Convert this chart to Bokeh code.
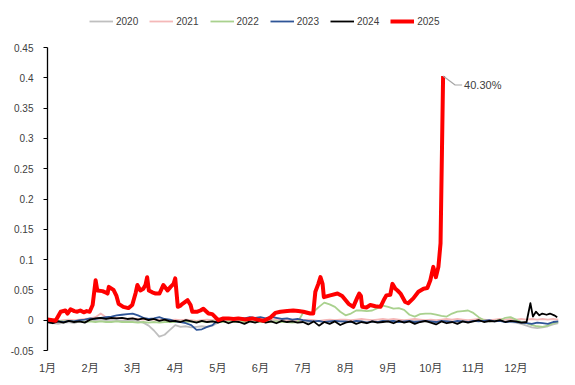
from bokeh.plotting import figure
from bokeh.models import (Range1d, FixedTicker, NumeralTickFormatter, Legend, LegendItem, Label)
from bokeh.embed import file_html
from bokeh.resources import INLINE

# ---- data (x in months since 1 Jan; 0 = 1月) ----
month_ticks = [0, 1, 2, 3, 4, 5, 6, 7, 8, 9, 10, 11]
month_labels = ["1月", "2月", "3月", "4月", "5月", "6月", "7月", "8月", "9月", "10月", "11月", "12月"]
y_ticks = [-0.05, 0, 0.05, 0.1, 0.15, 0.2, 0.25, 0.3, 0.35, 0.4, 0.45]

grid = [0, 0.125, 0.25, 0.375, 0.5, 0.625, 0.75, 0.875,
        1, 1.125, 1.25, 1.375, 1.5, 1.625, 1.75, 1.875,
        2, 2.125, 2.25, 2.375, 2.5, 2.625, 2.75, 2.875,
        3, 3.125, 3.25, 3.375, 3.5, 3.625, 3.75, 3.875,
        4, 4.125, 4.25, 4.375, 4.5, 4.625, 4.75, 4.875,
        5, 5.125, 5.25, 5.375, 5.5, 5.625, 5.75, 5.875,
        6, 6.125, 6.25, 6.375, 6.5, 6.625, 6.75, 6.875,
        7, 7.125, 7.25, 7.375, 7.5, 7.625, 7.75, 7.875,
        8, 8.125, 8.25, 8.375, 8.5, 8.625, 8.75, 8.875,
        9, 9.125, 9.25, 9.375, 9.5, 9.625, 9.75, 9.875,
        10, 10.125, 10.25, 10.375, 10.5, 10.625, 10.75, 10.875,
        11, 11.125, 11.25, 11.375, 11.5, 11.625, 11.75, 11.875,
        12]

y2020 = [-0.003, -0.005, -0.006, -0.004, -0.003, -0.005, -0.002, -0.003,
         -0.001, 0.000, 0.001, 0.000, 0.001, 0.000, -0.001, 0.000,
         0.000, -0.002, -0.004, -0.009, -0.017, -0.027, -0.024, -0.016,
         -0.008, -0.011, -0.010, -0.012, -0.011, -0.010, -0.011, -0.009,
         -0.004, -0.002, -0.003, -0.001, -0.002, 0.000, -0.001, -0.002,
         -0.001, -0.002, 0.000, -0.001, -0.002, -0.001, 0.000, -0.001,
         -0.002, -0.003, -0.001, -0.002, -0.003, -0.002, -0.001, -0.002,
         -0.003, -0.002, -0.001, -0.002, -0.003, -0.002, -0.003, -0.002,
         -0.002, -0.001, -0.002, -0.003, -0.002, -0.001, -0.002, -0.003,
         -0.002, -0.003, -0.002, -0.001, -0.002, -0.003, -0.002, -0.001,
         -0.002, -0.001, -0.002, -0.003, -0.002, -0.001, -0.002, -0.003,
         -0.004, -0.006, -0.009, -0.012, -0.013, -0.012, -0.010, -0.007,
         -0.005]

y2021 = [-0.001, 0.000, -0.001, 0.000, 0.001, 0.000, 0.001, 0.002,
         0.003, 0.005, 0.011, 0.005, 0.003, 0.004, 0.003, 0.002,
         0.003, 0.002, 0.001, 0.002, 0.001, 0.000, 0.001, 0.000,
         0.001, 0.000, 0.001, 0.000, -0.001, 0.000, 0.001, 0.000,
         0.001, 0.002, 0.001, 0.000, 0.001, 0.002, 0.001, 0.000,
         0.001, 0.000, 0.001, 0.002, 0.001, 0.000, 0.001, 0.000,
         0.000, 0.001, 0.000, -0.001, 0.000, 0.001, 0.000, 0.001,
         0.001, 0.000, 0.001, 0.002, 0.001, 0.000, 0.001, 0.002,
         0.001, 0.002, 0.001, 0.000, 0.001, 0.002, 0.001, 0.000,
         0.001, 0.000, 0.001, 0.002, 0.001, 0.002, 0.001, 0.000,
         0.001, 0.002, 0.001, 0.000, 0.001, 0.002, 0.001, 0.002,
         0.001, 0.002, 0.001, 0.002, 0.001, 0.002, 0.001, 0.002,
         0.001]

y2022 = [0.000, -0.001, -0.001, -0.002, -0.001, -0.002, -0.002, -0.003,
         -0.002, -0.003, -0.002, -0.003, -0.003, -0.002, -0.003, -0.003,
         -0.003, -0.004, -0.003, -0.004, -0.003, -0.004, -0.003, -0.003,
         -0.003, -0.002, -0.003, -0.002, -0.003, -0.002, -0.003, -0.002,
         -0.002, -0.003, -0.002, -0.003, -0.002, -0.003, -0.002, -0.003,
         -0.003, -0.002, -0.003, -0.002, -0.003, -0.003, -0.004, -0.003,
         0.012, 0.011, 0.014, 0.022, 0.029, 0.026, 0.022, 0.014,
         0.008, 0.011, 0.016, 0.016, 0.015, 0.016, 0.020, 0.024,
         0.022, 0.019, 0.020, 0.017, 0.009, 0.006, 0.010, 0.011,
         0.011, 0.009, 0.007, 0.006, 0.011, 0.014, 0.015, 0.016,
         0.012, 0.005, 0.000, -0.002, -0.001, 0.000, 0.004, 0.005,
         0.001, -0.003, -0.005, -0.008, -0.010, -0.011, -0.009, -0.005,
         -0.003]

y2023 = [-0.003, -0.004, -0.002, -0.003, -0.001, -0.002, 0.000, 0.001,
         0.003, 0.002, 0.004, 0.005, 0.006, 0.008, 0.009, 0.010,
         0.011, 0.008, 0.004, 0.002, 0.003, 0.005, 0.002, 0.001,
         -0.002, -0.003, -0.005, -0.008, -0.016, -0.015, -0.011, -0.008,
         0.000, 0.001, 0.003, 0.003, 0.004, 0.003, 0.005, 0.004,
         0.005, 0.003, 0.006, 0.004, 0.002, 0.003, 0.001, 0.002,
         0.000, -0.001, -0.002, -0.001, -0.003, -0.002, -0.001, -0.002,
         -0.002, -0.003, -0.001, -0.002, -0.004, -0.002, -0.003, -0.001,
         -0.002, -0.001, -0.003, -0.002, -0.001, -0.003, -0.002, -0.001,
         -0.002, -0.003, -0.001, -0.002, -0.003, -0.001, -0.002, -0.003,
         -0.001, -0.002, -0.001, 0.000, -0.002, -0.001, -0.003, -0.002,
         -0.003, -0.004, -0.005, -0.006, -0.004, -0.005, -0.006, -0.003,
         -0.002]

x2024 = grid[:91] + [11.34, 11.4, 11.47, 11.55, 11.62, 11.72, 11.8, 11.9, 11.97]
y2024 = [-0.003, -0.005, -0.002, -0.004, -0.001, -0.003, -0.002, -0.004,
         0.001, 0.003, 0.004, 0.002, 0.004, 0.003, 0.004, 0.002,
         0.003, 0.001, 0.003, 0.000, 0.002, -0.001, 0.001, -0.002,
         -0.001, -0.003, 0.000, -0.002, -0.004, -0.001, -0.003, -0.002,
         -0.004, -0.001, -0.005, -0.002, -0.003, -0.006, -0.002, -0.004,
         -0.001, -0.004, -0.002, -0.005, -0.001, -0.003, -0.002, -0.004,
         -0.003, -0.007, -0.002, -0.009, -0.003, -0.006, -0.002, -0.008,
         -0.004, -0.002, -0.006, -0.003, -0.005, -0.002, -0.004, -0.003,
         -0.002, -0.005, -0.001, -0.004, -0.002, -0.006, -0.003, -0.001,
         -0.004, -0.007, -0.002, -0.005, -0.003, -0.006, -0.002, -0.004,
         -0.002, 0.000, -0.003, -0.001, -0.002, 0.000, -0.003, -0.001,
         -0.002, -0.004, -0.003,
         0.028, 0.006, 0.014, 0.008, 0.011, 0.009, 0.011, 0.008, 0.005]

x2025 = [0.0, 0.12, 0.19, 0.31, 0.42, 0.47, 0.54, 0.63, 0.70, 0.77,
         0.85, 0.92, 0.99, 1.06, 1.13, 1.17, 1.29, 1.36, 1.41, 1.44,
         1.55, 1.62, 1.67, 1.78, 1.90, 1.99, 2.07, 2.11, 2.18, 2.25,
         2.30, 2.34, 2.38, 2.46, 2.54, 2.63, 2.72, 2.82, 2.89, 2.96,
         3.00, 3.06, 3.12, 3.17, 3.29, 3.36, 3.40, 3.52, 3.59, 3.66,
         3.78, 3.87, 3.97, 4.01, 4.13, 4.25, 4.37, 4.48, 4.65, 4.81,
         4.93, 5.07, 5.23, 5.35, 5.47, 5.63, 5.77, 5.89, 6.01, 6.17,
         6.24, 6.29, 6.36, 6.41, 6.46, 6.49, 6.64, 6.81, 6.92, 7.07,
         7.18, 7.28, 7.32, 7.36, 7.39, 7.49, 7.58, 7.70, 7.82, 7.91,
         7.96, 8.05, 8.10, 8.17, 8.22, 8.29, 8.40, 8.47, 8.59, 8.71,
         8.83, 8.92, 8.99, 9.06, 9.12, 9.18, 9.23, 9.29]
y2025 = [0.001, 0.0, -0.001, 0.014, 0.016, 0.011, 0.018, 0.015, 0.014, 0.016,
         0.013, 0.015, 0.014, 0.025, 0.066, 0.049, 0.048, 0.046, 0.044, 0.055,
         0.050, 0.040, 0.027, 0.022, 0.020, 0.025, 0.045, 0.058, 0.049, 0.052,
         0.058, 0.071, 0.049, 0.046, 0.044, 0.044, 0.058, 0.049, 0.055, 0.060,
         0.069, 0.022, 0.024, 0.027, 0.033, 0.025, 0.014, 0.014, 0.016, 0.019,
         0.011, 0.010, 0.003, 0.000, 0.003, 0.003, 0.002, 0.003, 0.001, 0.003,
         0.001, -0.001, 0.004, 0.012, 0.014, 0.015, 0.016, 0.015, 0.014, 0.011,
         0.011, 0.047, 0.060, 0.071, 0.060, 0.038, 0.041, 0.044, 0.040, 0.027,
         0.022, 0.038, 0.044, 0.040, 0.022, 0.021, 0.025, 0.023, 0.022, 0.035,
         0.041, 0.042, 0.060, 0.052, 0.049, 0.044, 0.030, 0.028, 0.036, 0.047,
         0.052, 0.053, 0.066, 0.088, 0.071, 0.088, 0.127, 0.403]

series = [
    ("2020", grid, y2020, "#BFBFBF", 1.8),
    ("2021", grid, y2021, "#F4B8B8", 1.8),
    ("2022", grid, y2022, "#A9D18E", 1.8),
    ("2023", grid, y2023, "#2F5597", 1.8),
    ("2024", x2024, y2024, "#000000", 1.8),
    ("2025", x2025, y2025, "#FF0000", 4),
]

# ---- layout ----
W, H = 575, 385
AXIS_TOP = 47                      # pixel row of the 0.45 tick
BL, BR, BT, BB = 47, 17, 2, 35
FW, FH = W - BL - BR, H - BT - BB
AX_H = H - BB - AXIS_TOP           # pixel height of the -0.05..0.45 axis span
y_lo, y_hi = y_ticks[0], y_ticks[-1]
y_top = y_hi + (AXIS_TOP - BT) * (y_hi - y_lo) / AX_H
FONT = "Liberation Sans, Noto Sans CJK SC"
TXT = "#404040"

p = figure(width=W, height=H, output_backend="svg", toolbar_location=None,
           x_range=Range1d(0, 12), y_range=Range1d(y_lo, y_top),
           min_border_left=BL, min_border_right=BR, min_border_top=BT, min_border_bottom=BB)
p.outline_line_color = None
p.xgrid.visible = False
p.ygrid.visible = False

p.yaxis.bounds = (y_lo, y_hi)
p.yaxis.ticker = FixedTicker(ticks=y_ticks)
p.yaxis.formatter = NumeralTickFormatter(format="0.[00]")
p.yaxis.axis_line_color = "#000000"
p.yaxis.axis_line_width = 1.3
p.yaxis.major_tick_line_color = "#000000"
p.yaxis.major_tick_out = 4
p.yaxis.major_tick_in = 0
p.yaxis.minor_tick_line_color = None
p.yaxis.major_label_standoff = 10
p.yaxis.major_label_text_font = FONT
p.yaxis.major_label_text_font_size = "10px"
p.yaxis.major_label_text_color = TXT

p.xaxis.ticker = FixedTicker(ticks=month_ticks)
p.xaxis.major_label_overrides = {t: l for t, l in zip(month_ticks, month_labels)}
p.xaxis.axis_line_color = None
p.xaxis.major_tick_line_color = None
p.xaxis.minor_tick_line_color = None
p.xaxis.major_label_standoff = 5
p.xaxis.major_label_text_font = FONT
p.xaxis.major_label_text_font_size = "11px"
p.xaxis.major_label_text_color = TXT

items = []
for name, xs, ys, color, lw in series:
    r = p.line(xs, ys, line_color=color, line_width=lw, line_join="round")
    items.append(LegendItem(label=name, renderers=[r]))

# data label on 2025 peak
i_pk = max(range(len(y2025)), key=lambda i: y2025[i])
pk_x, pk_y = x2025[i_pk], y2025[i_pk]
dx = 12 / FW
dy = (y_hi - y_lo) / AX_H
p.line([pk_x, pk_x + 12 * dx, pk_x + 19 * dx], [pk_y, pk_y - 9 * dy, pk_y - 9 * dy],
       line_color="#A6A6A6", line_width=1.2)
p.add_layout(Label(x=pk_x, y=pk_y, x_offset=21, y_offset=-9, text=f"{pk_y * 100:.2f}%",
                   text_font=FONT, text_font_size="11px", text_color=TXT,
                   text_baseline="middle"))

legend = Legend(items=items, orientation="horizontal",
                location=(40, (H - BB) - 29),
                glyph_width=24, glyph_height=12, label_height=12, label_standoff=3,
                spacing=11, padding=2, margin=0,
                label_text_font=FONT, label_text_font_size="10px", label_text_color=TXT,
                border_line_alpha=0, background_fill_alpha=0)
p.add_layout(legend)

open("out.html", "w").write(file_html(p, INLINE))
